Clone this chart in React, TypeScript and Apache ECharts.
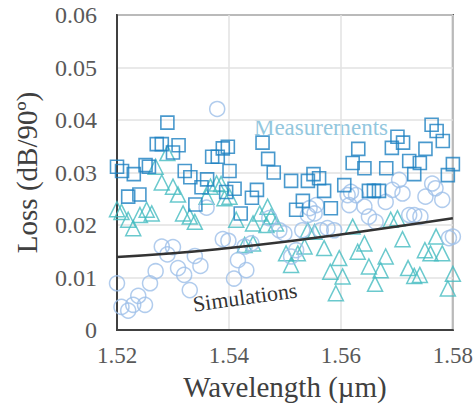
import React, { useEffect, useRef } from "react";
import * as echarts from "echarts";

const xTicks = [1.52, 1.54, 1.56, 1.58];
const yTicks = [0, 0.01, 0.02, 0.03, 0.04, 0.05, 0.06];

const squaresX = [1.52, 1.5209, 1.523, 1.5251, 1.5257, 1.522, 1.524, 1.5271, 1.528, 1.529, 1.531, 1.53, 1.5321, 1.5331, 1.534, 1.5351, 1.5361, 1.537, 1.538, 1.5389, 1.5398, 1.5395, 1.5401, 1.541, 1.5421, 1.5441, 1.545, 1.546, 1.547, 1.548, 1.5511, 1.552, 1.5532, 1.5541, 1.5551, 1.5561, 1.557, 1.5582, 1.5606, 1.5621, 1.5631, 1.5642, 1.565, 1.5659, 1.5668, 1.5681, 1.5691, 1.5701, 1.5711, 1.5722, 1.5731, 1.5741, 1.5751, 1.5762, 1.5771, 1.5782, 1.5791, 1.58];
const squaresY = [0.0311, 0.0303, 0.0297, 0.0314, 0.0311, 0.0254, 0.0258, 0.0354, 0.0354, 0.0395, 0.0352, 0.0338, 0.0303, 0.0291, 0.0239, 0.0272, 0.0287, 0.033, 0.033, 0.0346, 0.0349, 0.0263, 0.0303, 0.0269, 0.0222, 0.0252, 0.0267, 0.0357, 0.0326, 0.03, 0.0284, 0.0229, 0.0246, 0.0284, 0.0297, 0.0289, 0.0265, 0.0232, 0.0276, 0.0318, 0.0345, 0.0308, 0.0265, 0.0265, 0.0265, 0.0308, 0.0347, 0.0368, 0.0357, 0.0322, 0.0297, 0.0318, 0.0345, 0.0391, 0.0379, 0.036, 0.0295, 0.0316];

const circlesX = [1.5379, 1.536, 1.528, 1.53, 1.529, 1.5339, 1.5349, 1.5269, 1.5309, 1.532, 1.5259, 1.52, 1.533, 1.5238, 1.525, 1.5229, 1.5208, 1.522, 1.5389, 1.5399, 1.5416, 1.5431, 1.5409, 1.544, 1.5428, 1.549, 1.5499, 1.5511, 1.552, 1.5472, 1.5531, 1.5541, 1.5553, 1.5544, 1.5556, 1.5564, 1.5576, 1.5588, 1.5612, 1.5618, 1.5627, 1.5615, 1.5642, 1.565, 1.5662, 1.568, 1.5692, 1.5704, 1.571, 1.5722, 1.5731, 1.5742, 1.5751, 1.5763, 1.5769, 1.5781, 1.5793, 1.58];
const circlesY = [0.0421, 0.0233, 0.0159, 0.0158, 0.0144, 0.0141, 0.0122, 0.0112, 0.0118, 0.0105, 0.0089, 0.0089, 0.0076, 0.0065, 0.0048, 0.0048, 0.0044, 0.0037, 0.0173, 0.017, 0.0133, 0.0114, 0.0098, 0.0165, 0.0159, 0.019, 0.0184, 0.014, 0.0152, 0.0213, 0.019, 0.0219, 0.0222, 0.0232, 0.0238, 0.019, 0.0194, 0.019, 0.0257, 0.0263, 0.0257, 0.0238, 0.0235, 0.0216, 0.0206, 0.0244, 0.0267, 0.0286, 0.026, 0.0219, 0.0219, 0.0216, 0.0254, 0.0279, 0.027, 0.0248, 0.0175, 0.0178];

const trianglesX = [1.52, 1.5208, 1.522, 1.5229, 1.5241, 1.5253, 1.5262, 1.5269, 1.528, 1.529, 1.53, 1.5309, 1.5318, 1.533, 1.5339, 1.536, 1.5367, 1.5378, 1.5386, 1.5392, 1.5401, 1.5413, 1.5428, 1.5443, 1.5443, 1.5455, 1.5467, 1.5469, 1.5475, 1.5484, 1.5502, 1.5511, 1.5523, 1.5535, 1.5541, 1.5553, 1.557, 1.5581, 1.5591, 1.5597, 1.5603, 1.5621, 1.563, 1.5642, 1.565, 1.5661, 1.5671, 1.568, 1.5689, 1.5701, 1.571, 1.572, 1.5731, 1.5741, 1.575, 1.576, 1.577, 1.5781, 1.5791, 1.58];
const trianglesY = [0.023, 0.0225, 0.021, 0.0194, 0.0219, 0.0229, 0.0222, 0.0311, 0.0281, 0.0337, 0.0273, 0.0258, 0.0222, 0.0216, 0.0206, 0.0254, 0.0273, 0.0279, 0.0278, 0.0251, 0.0254, 0.021, 0.0162, 0.0203, 0.0165, 0.0222, 0.02, 0.0235, 0.0216, 0.0203, 0.0146, 0.0124, 0.0146, 0.0159, 0.019, 0.0187, 0.0156, 0.0111, 0.007, 0.0137, 0.0102, 0.0197, 0.0149, 0.0165, 0.0121, 0.0088, 0.0114, 0.014, 0.021, 0.0213, 0.0173, 0.0118, 0.0103, 0.0105, 0.0152, 0.0146, 0.0178, 0.0146, 0.0079, 0.0107];

const simX = [1.52, 1.53, 1.54, 1.55, 1.56, 1.57, 1.58];
const simY = [0.0139, 0.0146, 0.0156, 0.0168, 0.0182, 0.0197, 0.0213];

const FONT = "Liberation Serif";

const zip = (xs: number[], ys: number[]) => xs.map((x, i) => [x, ys[i]]);

export default function App() {
  const ref = useRef<HTMLDivElement>(null);
  useEffect(() => {
    if (!ref.current) return;
    const chart = echarts.init(ref.current, null, { renderer: "svg" });
    chart.setOption({
      animation: false,
      backgroundColor: "#ffffff",
      textStyle: { fontFamily: FONT },
      grid: {
        left: 117,
        right: 22,
        top: 15,
        bottom: 81,
        show: true,
        borderColor: "#444444",
        borderWidth: 2,
      },
      xAxis: {
        type: "value",
        min: xTicks[0],
        max: xTicks[xTicks.length - 1],
        interval: 0.02,
        name: "Wavelength (µm)",
        nameLocation: "middle",
        nameGap: 42,
        nameTextStyle: { fontFamily: FONT, fontSize: 29, color: "#404040" },
        axisLine: { show: true, lineStyle: { color: "#404040", width: 2 } },
        axisTick: { show: false },
        axisLabel: {
          fontFamily: FONT,
          fontSize: 23,
          color: "#595959",
          margin: 14,
          formatter: (v: number) => v.toFixed(2),
        },
        splitLine: { show: true, lineStyle: { color: "#e2e2e2", width: 1.5 } },
      },
      yAxis: {
        type: "value",
        min: yTicks[0],
        max: yTicks[yTicks.length - 1],
        interval: 0.01,
        name: "Loss (dB/90º)",
        nameLocation: "middle",
        nameGap: 76,
        nameTextStyle: { fontFamily: FONT, fontSize: 29, color: "#404040" },
        axisLine: { show: true, lineStyle: { color: "#404040", width: 2 } },
        axisTick: { show: false },
        axisLabel: {
          fontFamily: FONT,
          fontSize: 24,
          color: "#595959",
          margin: 20,
          formatter: (v: number) => (v === 0 ? "0" : v.toFixed(2)),
        },
        splitLine: { show: true, lineStyle: { color: "#e2e2e2", width: 1.5 } },
      },
      series: [
        {
          type: "scatter",
          name: "triangles",
          data: zip(trianglesX, trianglesY),
          symbol: "triangle",
          symbolSize: 15,
          clip: false,
          itemStyle: { color: "rgba(0,0,0,0)", borderColor: "#45bcc0", borderWidth: 1.5 },
        },
        {
          type: "scatter",
          name: "circles",
          data: zip(circlesX, circlesY),
          symbol: "circle",
          symbolSize: 15,
          clip: false,
          itemStyle: { color: "rgba(0,0,0,0)", borderColor: "#9dbfe9", borderWidth: 1.5 },
        },
        {
          type: "scatter",
          name: "squares",
          data: zip(squaresX, squaresY),
          symbol: "rect",
          symbolSize: 13,
          clip: false,
          itemStyle: { color: "rgba(0,0,0,0)", borderColor: "#1b7fc0", borderWidth: 1.6 },
        },
        {
          type: "line",
          name: "Simulations",
          data: zip(simX, simY),
          smooth: true,
          symbol: "none",
          lineStyle: { color: "#333333", width: 2.5 },
        },
      ],
      graphic: [
        {
          type: "text",
          x: 321,
          y: 127,
          style: {
            text: "Measurements",
            fontFamily: FONT,
            fontSize: 23,
            fill: "#93c7de",
            align: "center",
            verticalAlign: "middle",
          },
        },
        {
          type: "text",
          x: 245,
          y: 297,
          rotation: 0.137,
          style: {
            text: "Simulations",
            fontFamily: FONT,
            fontSize: 22,
            fill: "#333333",
            align: "center",
            verticalAlign: "middle",
          },
        },
      ],
    });
    return () => chart.dispose();
  }, []);
  return (
    <div
      ref={ref}
      style={{ position: "absolute", left: 0, top: 0, width: 476, height: 411 }}
    />
  );
}
